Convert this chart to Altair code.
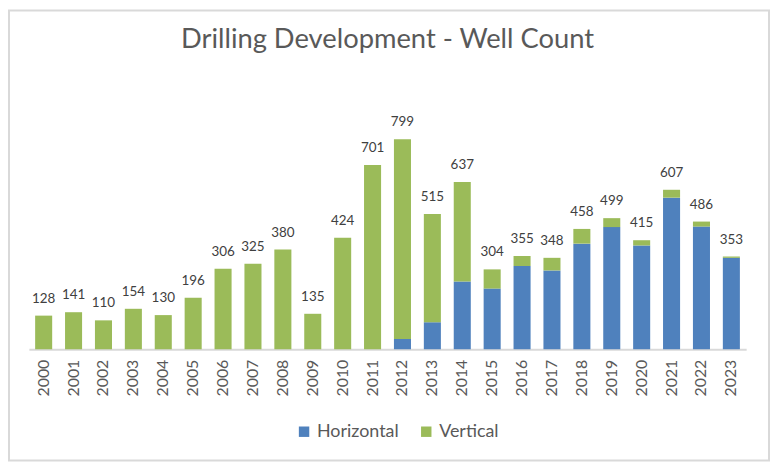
import altair as alt
import pandas as pd

years = [str(y) for y in range(2000, 2024)]
totals = [128, 141, 110, 154, 130, 196, 306, 325, 380, 135, 424, 701,
          799, 515, 637, 304, 355, 348, 458, 499, 415, 607, 486, 353]
horizontal = [0, 0, 0, 0, 0, 0, 0, 0, 0, 0, 0, 0,
              39, 103, 258, 231, 317, 300, 402, 465, 395, 577, 467, 348]
vertical = [t - h for t, h in zip(totals, horizontal)]
series = ["Horizontal", "Vertical"]
colors = ["#4F81BD", "#9BBB59"]

rows = []
for y, h, v in zip(years, horizontal, vertical):
    rows.append({"year": y, "type": "Horizontal", "count": h, "ord": 0})
    rows.append({"year": y, "type": "Vertical", "count": v, "ord": 1})
df = pd.DataFrame(rows)
tot_df = pd.DataFrame({"year": years, "total": totals})

FONT = "Lato"

x_enc = alt.X("year:N", sort=years, title=None,
              scale=alt.Scale(paddingInner=0.43, paddingOuter=0.21),
              axis=alt.Axis(labelAngle=270, labelFontSize=16, labelColor="#595959",
                            labelFont=FONT, labelPadding=10, ticks=False,
                            domainColor="#D9D9D9", domainWidth=2, grid=False))
y_scale = alt.Scale(domain=[0, 900])

bars = alt.Chart(df).mark_bar().encode(
    x=x_enc,
    y=alt.Y("count:Q", stack="zero", scale=y_scale, axis=None),
    color=alt.Color("type:N", scale=alt.Scale(domain=series, range=colors),
                    legend=alt.Legend(title=None, orient="none", legendX=268, legendY=312,
                                      direction="horizontal", symbolType="square",
                                      symbolSize=110, symbolStrokeWidth=0,
                                      labelFontSize=18, labelFont=FONT,
                                      labelColor="#595959", columnPadding=18)),
    order=alt.Order("ord:Q"),
)

labels = alt.Chart(tot_df).mark_text(baseline="bottom", dy=-10, fontSize=13.5,
                                     font=FONT, color="#404040").encode(
    x=alt.X("year:N", sort=years),
    y=alt.Y("total:Q", scale=y_scale),
    text=alt.Text("total:Q"),
)

border = alt.Chart(pd.DataFrame({"a": [0]})).mark_rect(
    filled=False, stroke="#D9D9D9", strokeWidth=2).encode(
    x=alt.value(-20), x2=alt.value(745), y=alt.value(-103), y2=alt.value(350))

chart = alt.layer(border, bars, labels).properties(
    width=722, height=238,
    autosize=alt.AutoSizeParams(type="none"),
    padding={"left": 21, "top": 104, "right": 25, "bottom": 113},
    title=alt.Title("Drilling Development - Well Count", fontSize=27.5, font=FONT,
                    fontWeight="normal", color="#595959", offset=-44, frame="group",
                    anchor="middle"),
).configure_view(stroke=None)

chart.save("out.html", embed_options={"renderer": "svg", "actions": False})
